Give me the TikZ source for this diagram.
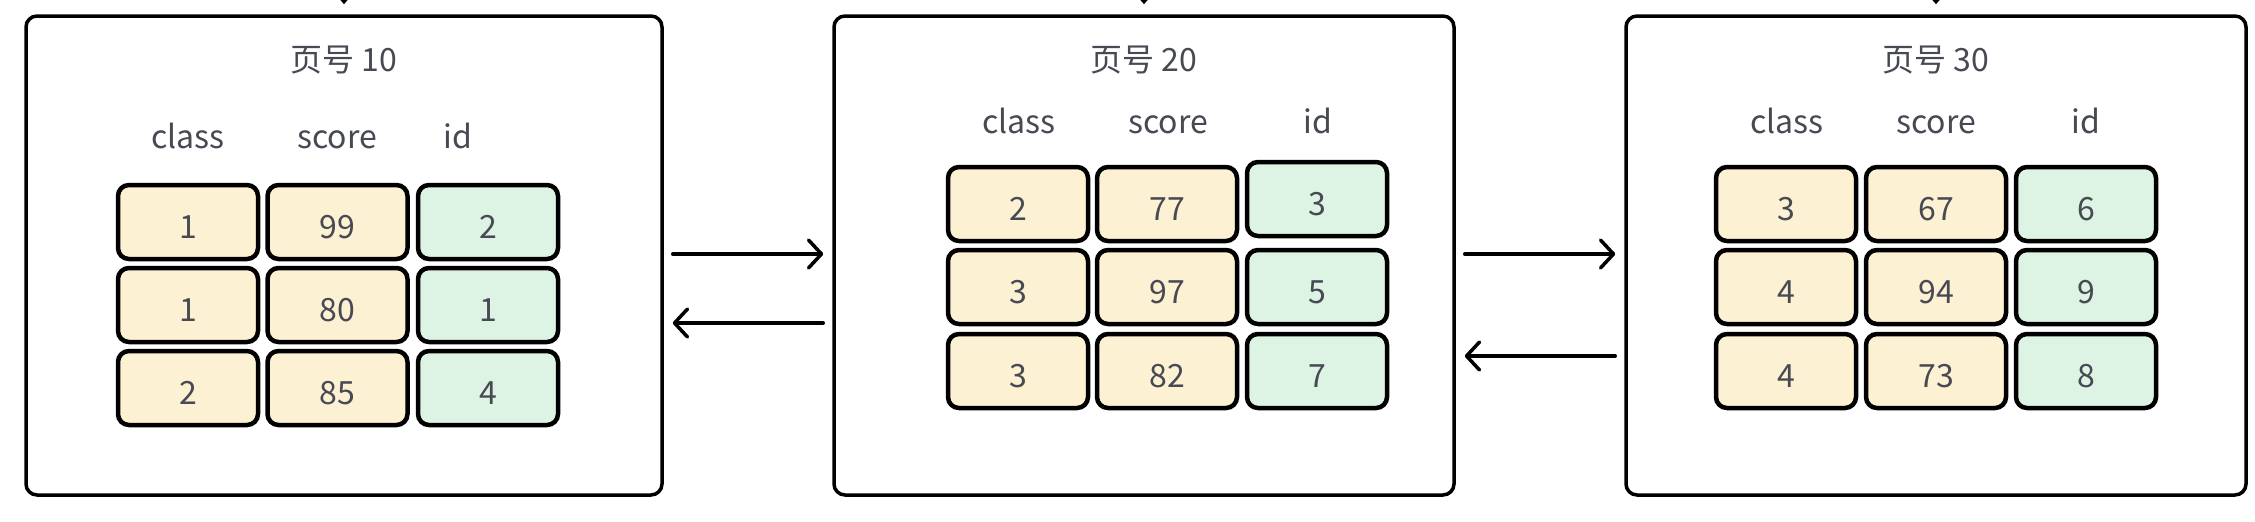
\documentclass[tikz,border=0pt]{standalone}
\usepackage{fontspec}
\setmainfont{Noto Sans CJK SC}
\usetikzlibrary{arrows.meta}
\definecolor{cellyellow}{HTML}{FDF1D3}
\definecolor{cellgreen}{HTML}{DDF4E4}
\definecolor{txtgray}{HTML}{474953}
\tikzset{
  pagebox/.style={draw=black, line width=3.5pt, rounded corners=11pt, fill=white, minimum width=#1, minimum height=479pt, inner sep=0pt},
  cellbox/.style={draw=black, line width=4.5pt, rounded corners=11pt, minimum width=140pt, minimum height=74pt, inner sep=0pt, text=txtgray, font=\fontsize{32}{38}\selectfont, text height=32pt, text depth=0pt},
  ycell/.style={cellbox, fill=cellyellow},
  gcell/.style={cellbox, fill=cellgreen},
  lbl/.style={text=txtgray, font=\fontsize{32}{38}\selectfont, inner sep=0pt, anchor=base},
  arr/.style={line width=3.5pt, -{Straight Barb[length=13pt,width=28pt,line cap=round,line join=round]}, line cap=round},
  toparr/.style={line width=3pt, -{Triangle[length=12pt,width=20pt]}}
}
\begin{document}
\begin{tikzpicture}[x=1pt,y=-1pt]
\useasboundingbox (0,0) rectangle (2255,522);
% page boxes
\node[pagebox=636pt] (p1) at (344,255.5) {};
\node[pagebox=620pt] (p2) at (1144,255.5) {};
\node[pagebox=620pt] (p3) at (1936,255.5) {};
% top arrows
\coordinate (t1) at (344,-25);
\coordinate (t2) at (1144,-25);
\coordinate (t3) at (1936,-25);
\draw[toparr] (t1) -- ([yshift=10pt]p1.north);
\draw[toparr] (t2) -- ([yshift=10pt]p2.north);
\draw[toparr] (t3) -- ([yshift=10pt]p3.north);
% titles
\node[lbl] (h1) at (344,71) {页号 10};
\node[lbl] (h2) at (1144,71) {页号 20};
\node[lbl] (h3) at (1936,71) {页号 30};
% headers page 1
\node[lbl] (c1a) at (188,148) {class};
\node[lbl] (c1b) at (337,148) {score};
\node[lbl] (c1c) at (458,148) {id};
% headers page 2
\node[lbl] (c2a) at (1019,133) {class};
\node[lbl] (c2b) at (1168,133) {score};
\node[lbl] (c2c) at (1318,133) {id};
% headers page 3
\node[lbl] (c3a) at (1787,133) {class};
\node[lbl] (c3b) at (1936,133) {score};
\node[lbl] (c3c) at (2086,133) {id};
% page 1 cells
\node[ycell] (a11) at (188,222) {1};
\node[ycell] (a12) at (337.5,222) {99};
\node[gcell] (a13) at (488,222) {2};
\node[ycell] (a21) at (188,305) {1};
\node[ycell] (a22) at (337.5,305) {80};
\node[gcell] (a23) at (488,305) {1};
\node[ycell] (a31) at (188,388) {2};
\node[ycell] (a32) at (337.5,388) {85};
\node[gcell] (a33) at (488,388) {4};
% page 2 cells
\node[ycell] (b11) at (1018,204) {2};
\node[ycell] (b12) at (1167,204) {77};
\node[gcell] (b13) at (1317,199) {3};
\node[ycell] (b21) at (1018,287) {3};
\node[ycell] (b22) at (1167,287) {97};
\node[gcell] (b23) at (1317,287) {5};
\node[ycell] (b31) at (1018,371) {3};
\node[ycell] (b32) at (1167,371) {82};
\node[gcell] (b33) at (1317,371) {7};
% page 3 cells
\node[ycell] (d11) at (1786,204) {3};
\node[ycell] (d12) at (1936,204) {67};
\node[gcell] (d13) at (2086,204) {6};
\node[ycell] (d21) at (1786,287) {4};
\node[ycell] (d22) at (1936,287) {94};
\node[gcell] (d23) at (2086,287) {9};
\node[ycell] (d31) at (1786,371) {4};
\node[ycell] (d32) at (1936,371) {73};
\node[gcell] (d33) at (2086,371) {8};
% arrows between pages
\coordinate (r1) at (0,254);
\coordinate (r2) at (0,323);
\coordinate (r3) at (0,254);
\coordinate (r4) at (0,356);
\draw[arr, shorten <=9pt, shorten >=9pt] (p1.east |- r1) -- (p2.west |- r1);
\draw[arr, shorten <=9pt, shorten >=9pt] (p2.west |- r2) -- (p1.east |- r2);
\draw[arr, shorten <=9pt, shorten >=9pt] (p2.east |- r3) -- (p3.west |- r3);
\draw[arr, shorten <=9pt, shorten >=9pt] (p3.west |- r4) -- (p2.east |- r4);
\end{tikzpicture}
\end{document}
